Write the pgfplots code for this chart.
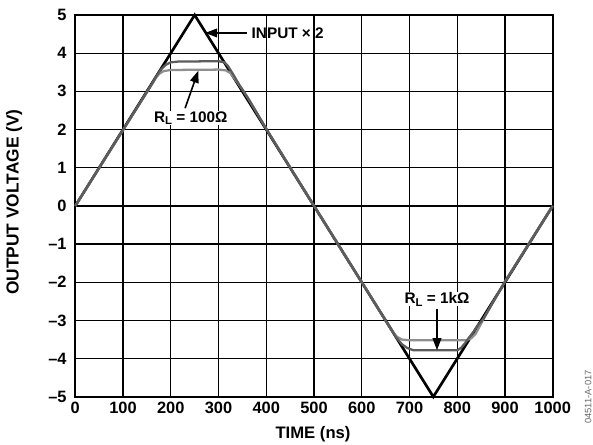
\documentclass[border=0pt]{standalone}
\usepackage{fontspec}
\setmainfont{Liberation Sans}
\usepackage{pgfplots}
\pgfplotsset{compat=1.18}
\usetikzlibrary{arrows.meta}

\definecolor{darkgr}{gray}{0.36}
\definecolor{lightgr}{gray}{0.56}

\begin{document}
\begin{tikzpicture}
\begin{axis}[
  scale only axis, width=358pt, height=286.3pt,
  xmin=0, xmax=1000, ymin=-5, ymax=5,
  xtick={0,100,...,1000}, ytick={-5,-4,...,5},
  yticklabels={–5,–4,–3,–2,–1,0,1,2,3,4,5},
  grid=major, major grid style={black, line width=0.9pt},
  axis line style={line width=1.5pt},
  tick style={draw=none},
  ticklabel style={font=\fontsize{12.3}{13}\selectfont\bfseries},
  yticklabel style={xshift=-3pt},
  xticklabel style={yshift=-0.5pt},
  /pgf/number format/assume math mode=true,
  /pgf/number format/1000 sep={},
  clip=false,
]
% input x 2
\addplot[black, line width=2pt] coordinates {(0,0) (250,5) (750,-5) (1000,0)};
% R_L = 100 ohm
\addplot[lightgr, line width=1.7pt, line join=round] coordinates {
  (0,0) (150,2.98) (160,3.18) (168,3.34) (176,3.46) (185,3.53) (200,3.56)
  (300,3.57) (315,3.55) (325,3.48) (338,3.26) (350,3.05) (362,2.82) (400,2.02)
  (500,0) (600,-2) (655,-3.1) (664,-3.28) (673,-3.42) (684,-3.50) (700,-3.52)
  (818,-3.52) (828,-3.48) (838,-3.36) (846,-3.18) (855,-2.96) (900,-1.98) (1000,0)};
% R_L = 1k ohm
\addplot[darkgr, line width=1.7pt, line join=round] coordinates {
  (0,0) (150,2.98) (160,3.18) (170,3.4) (180,3.58) (190,3.7) (200,3.76) (215,3.78)
  (300,3.79) (312,3.76) (320,3.66) (330,3.46) (345,3.14) (362,2.82) (400,2.02)
  (500,0) (600,-2) (660,-3.2) (672,-3.44) (684,-3.62) (695,-3.72) (708,-3.78)
  (800,-3.78) (808,-3.72) (816,-3.6) (824,-3.46) (834,-3.3) (845,-3.1) (855,-2.96)
  (900,-1.98) (1000,0)};

% annotations
\draw[-{Triangle[width=6.5pt,length=9pt]}, line width=1.2pt] (axis cs:359,4.53) -- (axis cs:272,4.53);
\node[anchor=west, font=\fontsize{11.5}{12}\selectfont\bfseries, inner sep=0pt] at (axis cs:369,4.52) {INPUT × 2};

\node[font=\fontsize{11.5}{12}\selectfont\bfseries, inner sep=0pt, fill=white, inner xsep=1pt] at (axis cs:242,2.30) {R\raisebox{-0.35ex}{\fontsize{8.5}{9}\selectfont L} = 100Ω};
\draw[-{Triangle[width=6.5pt,length=9pt]}, line width=1.2pt] (axis cs:230,2.56) -- (axis cs:257.7,3.54);

\node[font=\fontsize{11.5}{12}\selectfont\bfseries, inner sep=0pt, fill=white, inner xsep=1pt] at (axis cs:757.6,-2.45) {R\raisebox{-0.35ex}{\fontsize{8.5}{9}\selectfont L} = 1kΩ};
\draw[-{Triangle[width=6.5pt,length=9pt]}, line width=1.2pt] (axis cs:757.6,-2.69) -- (axis cs:757.6,-3.78);

% axis titles
\node[rotate=90, font=\fontsize{13}{14}\selectfont\bfseries] at (axis cs:-128,0.1) {OUTPUT VOLTAGE (V)};
\node[font=\fontsize{12.5}{13}\selectfont\bfseries] at (axis cs:498,-5.98) {TIME (ns)};
\node[rotate=90, anchor=east, font=\fontsize{7}{8}\selectfont, text=black!60, inner sep=0pt] at (axis cs:1074,-4.3) {04511-A-017};

\coordinate (bbsw) at (axis cs:-157.7,-6.239);
\coordinate (bbne) at (axis cs:1084.4,5.393);
\end{axis}
\pgfresetboundingbox
\path[use as bounding box] (bbsw) rectangle (bbne);
\end{tikzpicture}
\end{document}
